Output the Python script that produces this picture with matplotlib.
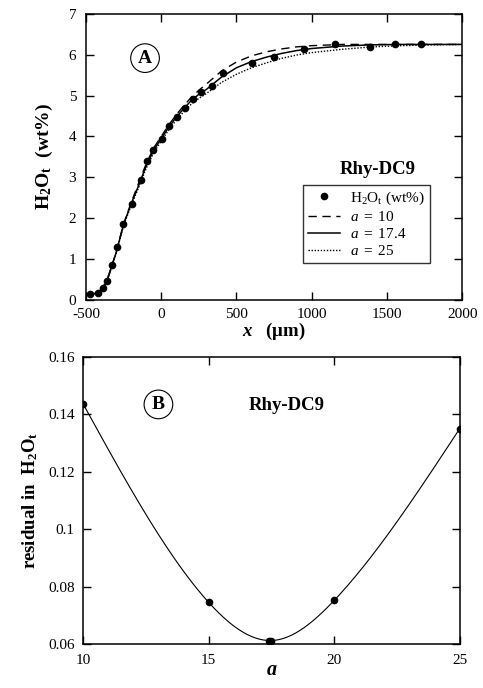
import numpy as np
import matplotlib
matplotlib.use('Agg')
import matplotlib.pyplot as plt

plt.rcParams['font.family'] = ['Liberation Serif', 'DejaVu Serif']
plt.rcParams['axes.unicode_minus'] = False
plt.rcParams['mathtext.fontset'] = 'custom'
plt.rcParams['mathtext.rm'] = 'Liberation Serif'
plt.rcParams['mathtext.it'] = 'Liberation Serif:italic'
plt.rcParams['mathtext.bf'] = 'Liberation Serif:bold'
plt.rcParams['mathtext.bfit'] = 'Liberation Serif:italic:bold'

#panel A data: measured profile
x_pts = [-473, -418, -389, -362, -329, -292, -252, -196, -134, -96, -52, 3, 54,
         103, 158, 213, 263, 336, 413, 606, 746, 951, 1156, 1384, 1554, 1725]
h2o_pts = [0.14, 0.18, 0.29, 0.46, 0.86, 1.30, 1.87, 2.34, 2.93, 3.40, 3.67, 3.93, 4.25,
           4.47, 4.69, 4.91, 5.08, 5.24, 5.54, 5.80, 5.95, 6.13, 6.25, 6.18, 6.25, 6.25]

#panel A model curves
x_fit = [-480, -450, -420, -400, -380, -360, -340, -320, -300, -250, -200, -150, -100, -50,
         0, 50, 100, 150, 200, 250, 300, 400, 500, 600, 700, 800, 900, 1000, 1200,
         1400, 1600, 1800, 2000]
fit_a10 = [0.15, 0.15, 0.17, 0.21, 0.31, 0.46, 0.68, 0.92, 1.17, 1.86, 2.38, 2.86, 3.33, 3.72,
           4.00, 4.28, 4.53, 4.75, 4.96, 5.13, 5.28, 5.60, 5.82, 5.97, 6.07, 6.14, 6.19, 6.22, 6.25,
           6.25, 6.25, 6.25, 6.25]
fit_a17 = [0.15, 0.15, 0.18, 0.24, 0.34, 0.48, 0.70, 0.93, 1.15, 1.85, 2.35, 2.80, 3.28, 3.66,
           3.95, 4.22, 4.47, 4.68, 4.88, 5.03, 5.15, 5.45, 5.68, 5.83, 5.94, 6.03, 6.10, 6.15, 6.21,
           6.24, 6.25, 6.25, 6.25]
fit_a25 = [0.15, 0.16, 0.20, 0.27, 0.37, 0.51, 0.71, 0.93, 1.13, 1.82, 2.31, 2.75, 3.22, 3.60,
           3.89, 4.16, 4.40, 4.60, 4.79, 4.93, 5.05, 5.32, 5.52, 5.68, 5.80, 5.91, 5.99, 6.05, 6.13,
           6.19, 6.22, 6.24, 6.25]

#panel B data
a_vals = [10, 15, 17.4, 17.5, 20, 25]
resid = [0.1437, 0.0745, 0.0612, 0.0612, 0.0752, 0.1351]


def natural_spline(x, y, xs):
    x = np.asarray(x, float); y = np.asarray(y, float)
    n = len(x)
    h = np.diff(x)
    A = np.zeros((n, n)); b = np.zeros(n)
    A[0, 0] = 1; A[-1, -1] = 1
    for i in range(1, n - 1):
        A[i, i - 1] = h[i - 1]
        A[i, i] = 2 * (h[i - 1] + h[i])
        A[i, i + 1] = h[i]
        b[i] = 3 * ((y[i + 1] - y[i]) / h[i] - (y[i] - y[i - 1]) / h[i - 1])
    c = np.linalg.solve(A, b)
    out = np.empty_like(xs)
    for k, xv in enumerate(xs):
        i = min(np.searchsorted(x, xv, side='right') - 1, n - 2)
        i = max(i, 0)
        bb = (y[i + 1] - y[i]) / h[i] - h[i] * (2 * c[i] + c[i + 1]) / 3
        d = (c[i + 1] - c[i]) / (3 * h[i])
        t = xv - x[i]
        out[k] = y[i] + bb * t + c[i] * t**2 + d * t**3
    return out


fig = plt.figure(figsize=(4.83, 6.88), dpi=100)
axA = fig.add_axes([0.178, 0.564, 0.779, 0.416])
axB = fig.add_axes([0.172, 0.064, 0.780, 0.417])

for ax in (axA, axB):
    ax.tick_params(direction='in', top=True, right=True, length=6, width=1, labelsize=11)
    for s in ax.spines.values():
        s.set_linewidth(1.1)

#panel A
axA.plot(x_fit, fit_a10, color='black', lw=1.0, ls=(0, (6, 4)), label=r'$a\ =\ 10$')
axA.plot(x_fit, fit_a17, color='black', lw=1.1, ls='-', label=r'$a\ =\ 17.4$')
axA.plot(x_fit, fit_a25, color='black', lw=1.0, ls=(0, (1, 1.2)), label=r'$a\ =\ 25$')
axA.plot(x_pts, h2o_pts, 'o', color='black', ms=4.5, label=r'H$_2$O$_\mathrm{t}$ (wt%)')
axA.set_xlim(-500, 2000)
axA.set_ylim(0, 7)
axA.set_xticks([-500, 0, 500, 1000, 1500, 2000])
axA.set_yticks(range(0, 8))
axA.tick_params(axis='x', pad=6)
axA.tick_params(axis='y', pad=7)
axA.set_xlabel(r'$\mathbfit{x}$   (μm)', fontsize=13.5, fontweight='bold', labelpad=0)
axA.set_ylabel(r'$\mathbf{H_2O_t}$  (wt%)', fontsize=14, fontweight='bold', labelpad=10)

h, l = axA.get_legend_handles_labels()
order = [3, 0, 1, 2]
leg = axA.legend([h[i] for i in order], [l[i] for i in order], loc='upper left',
                 bbox_to_anchor=(0.577, 0.402), fontsize=11, frameon=True, fancybox=False,
                 edgecolor='black', handlelength=2.1, borderpad=0.3, labelspacing=0.2,
                 handletextpad=0.7, borderaxespad=0)
leg.get_frame().set_linewidth(1.0)

axA.text(0.157, 0.845, 'A', transform=axA.transAxes, fontsize=14, fontweight='bold',
         ha='center', va='center',
         bbox=dict(boxstyle='circle,pad=0.3', fc='white', ec='black', lw=0.8))
axA.text(0.775, 0.455, 'Rhy-DC9', transform=axA.transAxes, fontsize=13.5, fontweight='bold',
         ha='center', va='center')

#panel B
aa = np.linspace(min(a_vals), max(a_vals), 300)
axB.plot(aa, natural_spline(a_vals, resid, aa), color='black', lw=0.8)
axB.plot(a_vals, resid, 'o', color='black', ms=4.5)
axB.set_xlim(10, 25)
axB.set_ylim(0.06, 0.16)
axB.set_xticks([10, 15, 20, 25])
axB.set_yticks([0.06, 0.08, 0.1, 0.12, 0.14, 0.16])
axB.set_yticklabels(['0.06', '0.08', '0.1', '0.12', '0.14', '0.16'])
axB.tick_params(axis='x', pad=7)
axB.tick_params(axis='y', pad=6)
axB.set_xlabel(r'$\mathbfit{a}$', fontsize=14.5, labelpad=-4)
axB.set_ylabel(r'residual in  $\mathbf{H_2O_t}$', fontsize=13.5, fontweight='bold', labelpad=6)

axB.text(0.2, 0.835, 'B', transform=axB.transAxes, fontsize=14, fontweight='bold',
         ha='center', va='center',
         bbox=dict(boxstyle='circle,pad=0.3', fc='white', ec='black', lw=0.8))
axB.text(0.54, 0.83, 'Rhy-DC9', transform=axB.transAxes, fontsize=13.5, fontweight='bold',
         ha='center', va='center')

fig.savefig('out.png', dpi=100)
